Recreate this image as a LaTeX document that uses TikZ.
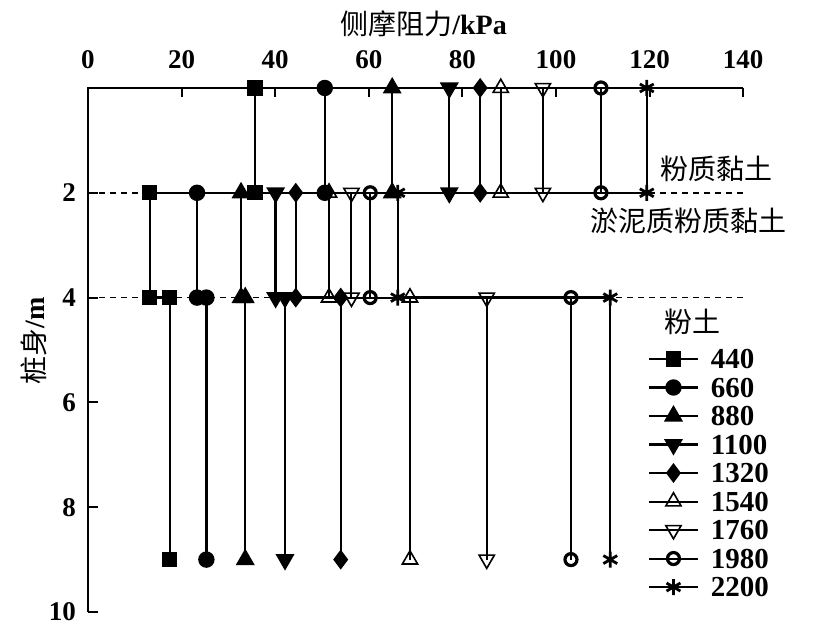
\documentclass[tikz,border=0pt]{standalone}
\usepackage{fontspec}
\setmainfont{Liberation Serif}
\newfontfamily\cjk{Noto Sans CJK SC}
\usetikzlibrary{plotmarks}

\tikzset{
  axis/.style={line width=1pt},
  series/.style={line width=1.2pt},
  openseries/.style={line width=1pt},
  layer/.style={dash pattern=on 3pt off 2.5pt, line width=0.75pt},
  num/.style={font=\bfseries\fontsize{13.5}{15}\selectfont},
  legnum/.style={font=\bfseries\fontsize{14.5}{16}\selectfont},
  soil/.style={font=\cjk\fontsize{14}{16}\selectfont},
  s440/.style={series, mark=square*, mark size=3.2pt},
  s660/.style={series, mark=*, mark size=3.5pt},
  s880/.style={series, mark=triangle*, mark size=4.3pt},
  s1100/.style={series, mark=triangle*, mark size=4.3pt, mark options={rotate=180}},
  s1320/.style={series, mark=diamond*, mark size=4pt},
  s1540/.style={openseries, mark=triangle, mark size=4.4pt, mark options={line width=0.8pt}},
  s1760/.style={openseries, mark=triangle, mark size=4.4pt, mark options={rotate=180, line width=0.8pt}},
  s1980/.style={openseries, mark=o, mark size=3pt, mark options={line width=1.6pt}},
  s2200/.style={series, mark=asterisk, mark size=4pt, mark options={line width=1.4pt}},
}

\begin{document}
\begin{tikzpicture}[x=2.34pt,y=-26.2pt]
    \useasboundingbox (-18.80,-1.679) rectangle (158.76,10.305);

    % soil layer boundaries
    \draw[layer] (0,2) -- (140,2);
    \draw[layer] (0,4) -- (140,4);

    % axes
    \draw[axis] (0,10) -- (0,0) -- (140,0);
    \foreach \x in {20,40,...,140}
        \draw[axis] (\x,0) -- ++(0,-4.5pt);
    \foreach \x in {0,20,...,140}
        \node[num] (xt\x) at (\x,-0.534) {\x};
    \foreach \y in {2,4,...,10} {
        \draw[axis] (0,\y) -- ++(5pt,0);
        \node[num, anchor=east] (yt\y) at (-1.07,\y) {\y};
    }
    \node[soil] (xtitle) at (71.7,-1.221) {侧摩阻力{\rmfamily\bfseries /kPa}};
    \node[soil, rotate=90] (ytitle) at (-11.54,4.83) {桩身{\rmfamily\bfseries /m}};

    % side friction per load
    \foreach \s/\a/\b/\c in {440/35.7/13.2/17.5, 660/50.6/23.3/25.3,
            880/65.0/32.7/33.6, 1100/77.2/40.1/42.1, 1320/83.8/44.4/54.0,
            1540/88.2/51.5/68.8, 1760/97.2/56.3/85.2, 1980/109.6/60.3/103.2,
            2200/119.4/66.2/111.6}
        \draw[s\s] plot coordinates {(\a,0) (\a,2) (\b,2) (\b,4) (\c,4) (\c,9)};

    \node[soil] (clay) at (134.2,1.546) {粉质黏土};
    \node[soil] (mudclay) at (128.4,2.538) {淤泥质粉质黏土};
    \node[soil] (silt) at (129.06,4.466) {粉土};

    % legend
    \foreach \s [count=\i from 0] in {440,660,880,1100,1320,1540,1760,1980,2200} {
        \pgfmathsetmacro\ly{5.172+0.544*\i}
        \draw[s\s, mark phase=2, mark repeat=3] plot coordinates {(119.87,\ly) (125.1,\ly) (130.34,\ly)};
        \node[legnum, anchor=west] (lg\s) at (131.6,\ly) {\s};
    }
\end{tikzpicture}
\end{document}
